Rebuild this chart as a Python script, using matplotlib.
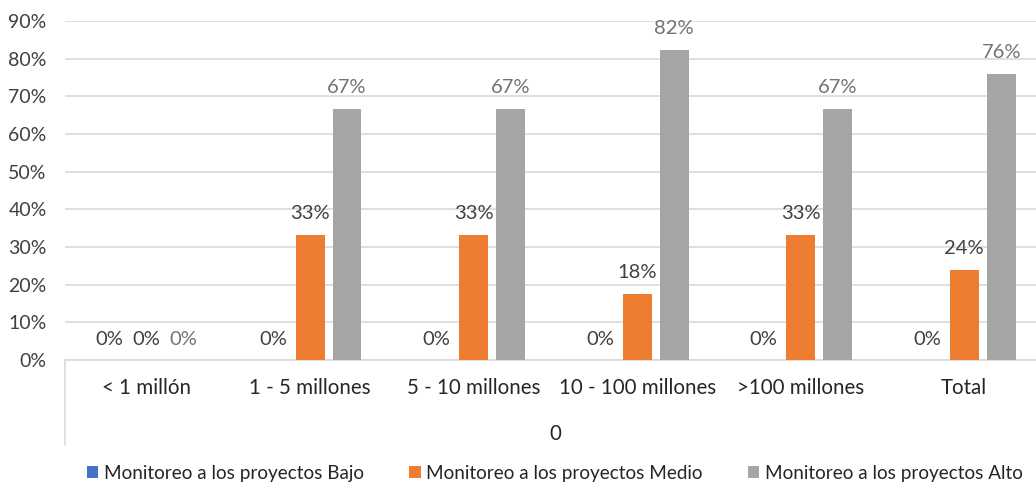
import matplotlib
matplotlib.use("Agg")
import matplotlib.pyplot as plt
from matplotlib.lines import Line2D
import numpy as np

categories = ["< 1 millón", "1 - 5 millones", "5 - 10 millones", "10 - 100 millones", ">100 millones", "Total"]
series_names = ["Monitoreo a los proyectos Bajo", "Monitoreo a los proyectos Medio", "Monitoreo a los proyectos Alto"]
bajo = [0.0, 0.0, 0.0, 0.0, 0.0, 0.0]
medio = [0.0, 0.333, 0.333, 0.176, 0.333, 0.24]
alto = [0.0, 0.667, 0.667, 0.824, 0.667, 0.76]
y_ticks = [0.0, 0.1, 0.2, 0.3, 0.4, 0.5, 0.6, 0.7, 0.8, 0.9]
x_title = "0"

colors = ["#4472C4", "#ED7D31", "#A5A5A5"]
label_colors = ["#404040", "#404040", "#737373"]

plt.rcParams['font.family'] = ['Lato', 'DejaVu Sans']

W, H = 1036, 484
fig = plt.figure(figsize=(W / 100, H / 100), dpi=100)
left, right = 64.75, 1046
top, bottom = 21, 360
ax = fig.add_axes([left / W, (H - bottom) / H, (right - left) / W, (bottom - top) / H])

x = np.arange(len(categories))
width = 0.177
pitch = 0.226
data = [bajo, medio, alto]
for i, (vals, c, lc, name) in enumerate(zip(data, colors, label_colors, series_names)):
    pos = x + (i - 1) * pitch
    ax.bar(pos, vals, width=width, color=c, label=name, zorder=3)
    for px_, v in zip(pos, vals):
        ax.annotate(f"{round(v * 100):.0f}%", (px_, v), xytext=(0, 15.1), textcoords="offset points",
                    ha="center", va="center", fontsize=14.5, color=lc, zorder=4)

ax.set_xlim(-0.5, len(categories) - 0.5)
ax.set_ylim(0, 0.9)
ax.set_yticks(y_ticks)
ax.set_yticklabels([f"{round(t * 100)}%" for t in y_ticks], fontsize=14, color="#404040")
ax.yaxis.grid(True, color="#D9D9D9", linewidth=1.2, zorder=0)
ax.set_axisbelow(True)
for s in ["top", "right", "left"]:
    ax.spines[s].set_visible(False)
ax.spines["bottom"].set_color("#D9D9D9")
ax.spines["bottom"].set_linewidth(1.2)
ax.tick_params(axis="y", length=0, pad=13)
ax.set_xticks(x)
ax.set_xticklabels(categories, fontsize=14.8, color="#262626")
ax.tick_params(axis="x", length=0, pad=13)
ax.set_xlabel(x_title, fontsize=14.8, color="#262626", labelpad=19)

# left vertical divider of the multi-level category axis
ax.add_line(Line2D([0, 0], [0, -(445 - 360) / (bottom - top)], transform=ax.transAxes,
                   color="#D9D9D9", linewidth=1.2, clip_on=False))

handles, labels = ax.get_legend_handles_labels()
leg = fig.legend(handles, labels, loc="center", bbox_to_anchor=(555 / W, (H - 473) / H), ncol=3,
                 frameon=False, fontsize=13.6, handlelength=0.6, handleheight=0.6,
                 handletextpad=0.3, columnspacing=2.4)
for t in leg.get_texts():
    t.set_color("#262626")

fig.savefig("out.png", dpi=100)
